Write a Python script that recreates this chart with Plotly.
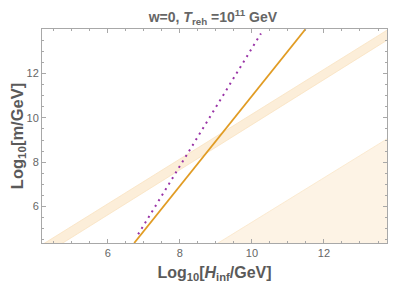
import plotly.graph_objects as go

# ---- data ----
orange_H = [6.73, 11.49]
orange_m = [4.36, 14.00]

purple_H = [6.84, 10.25]
purple_m = [4.75, 13.80]

band_H = [4.0, 14.0]
band_lo = [3.60, 13.75]
band_hi = [4.11, 14.20]

tri_H = [9.00, 14.00, 14.00]
tri_m = [4.30, 9.30, 4.00]

x_ticks = [6, 8, 10, 12]
y_ticks = [6, 8, 10, 12]

band_fill = "rgb(252,238,217)"
band_edge = "rgb(249,226,192)"
tri_fill = "rgb(253,243,229)"
tri_edge = "rgb(250,230,200)"
FONT = "Liberation Sans, Arial, sans-serif"

fig = go.Figure()

# upper diagonal band
fig.add_trace(go.Scatter(x=band_H, y=band_lo, mode="lines",
                         line=dict(color=band_edge, width=0.8), hoverinfo="skip", showlegend=False))
fig.add_trace(go.Scatter(x=band_H, y=band_hi, mode="lines", fill="tonexty",
                         fillcolor=band_fill,
                         line=dict(color=band_edge, width=0.8), hoverinfo="skip", showlegend=False))

# lower-right region
fig.add_trace(go.Scatter(x=tri_H, y=tri_m, mode="lines", fill="toself",
                         fillcolor=tri_fill,
                         line=dict(color=tri_edge, width=0.8), hoverinfo="skip", showlegend=False))

# orange solid line
fig.add_trace(go.Scatter(x=orange_H, y=orange_m, mode="lines",
                         line=dict(color="#E19C24", width=1.8), showlegend=False))

# purple dotted line
fig.add_trace(go.Scatter(x=purple_H, y=purple_m, mode="lines",
                         line=dict(color="#9933A6", width=2, dash="2px,4.5px"), showlegend=False))

axis_common = dict(
    showgrid=False, zeroline=False, automargin=False,
    showline=True, linecolor="#A8A8A8", linewidth=1, mirror="allticks",
    ticks="inside", ticklen=4, tickcolor="#A8A8A8", tickwidth=1,
    tickfont=dict(family=FONT, size=11, color="#666666"),
    minor=dict(ticks="inside", ticklen=2, dtick=0.5, tickcolor="#A8A8A8", tickwidth=1),
)

# the page body adds an 8px offset, so the figure is 8px smaller and margins compensate
fig.update_layout(
    width=391, height=281,
    margin=dict(l=34, r=12, t=21, b=46, autoexpand=False),
    paper_bgcolor="white", plot_bgcolor="white",
    title=dict(text="<b>w=0, <i>T</i><sub>reh</sub> =10<sup>11</sup> GeV</b>",
               x=0.524, xanchor="center", y=0.968, yanchor="middle",
               font=dict(family=FONT, size=14, color="#666666")),
    xaxis=dict(range=[4.17, 13.75], tickvals=x_ticks,
               title=dict(text="<b>Log<sub>10</sub>[<i>H</i><sub>inf</sub>/GeV]</b>",
                          font=dict(family=FONT, size=16, color="#5A5A5A"),
                          standoff=8),
               **axis_common),
    yaxis=dict(range=[4.36, 14.0], tickvals=y_ticks,
               title=dict(text="<b>Log<sub>10</sub>[m/GeV]</b>",
                          font=dict(family=FONT, size=16.5, color="#5A5A5A"),
                          standoff=8),
               **axis_common),
)

fig.write_html("out.html")
